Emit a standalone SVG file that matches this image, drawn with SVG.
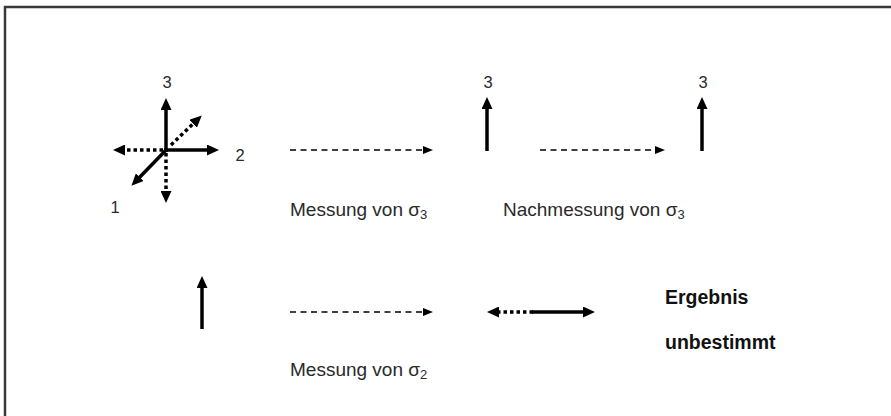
<svg xmlns="http://www.w3.org/2000/svg" width="891" height="416" viewBox="0 0 891 416">
<style>
  .frame { fill: none; stroke: #3a3a3a; stroke-width: 2.5; }
  .lbl { font-family: "Liberation Sans", Arial, sans-serif; font-size: 19px; fill: #2a2a2a; }
  .num { font-family: "Liberation Sans", Arial, sans-serif; font-size: 16.5px; fill: #2a2a2a; text-anchor: middle; }
  .bold { font-family: "Liberation Sans", Arial, sans-serif; font-size: 19.5px; font-weight: bold; fill: #111; }
  .sub { font-size: 13px; }
  .thick { stroke: #000; stroke-width: 3.5; fill: none; marker-end: url(#hd); }
  .dot { stroke: #000; stroke-width: 3.5; fill: none; stroke-dasharray: 3.5 3; marker-end: url(#hd); }
  .thin { stroke: #000; stroke-width: 1.3; fill: none; stroke-dasharray: 6 4.5; marker-end: url(#hs); }
</style>
<defs>
  <marker id="hd" markerUnits="userSpaceOnUse" viewBox="0 0 12 11" refX="4" refY="5.5" markerWidth="12" markerHeight="11" orient="auto">
    <path d="M0,0 L12,5.5 L0,11 z" fill="#000"/>
  </marker>
  <marker id="hs" markerUnits="userSpaceOnUse" viewBox="0 0 10 8" refX="2" refY="4" markerWidth="10" markerHeight="8" orient="auto">
    <path d="M0,0 L10,4 L0,8 z" fill="#000"/>
  </marker>
</defs>
<rect class="frame" x="5" y="7" width="900" height="420"/>

<g id="axes-initial">
  <line class="thick" x1="166" y1="152" x2="166" y2="106"/>
  <line class="thick" x1="164" y1="150" x2="211" y2="150"/>
  <line class="dot" x1="163" y1="150" x2="121" y2="150"/>
  <line class="dot" x1="166" y1="153" x2="166" y2="195"/>
  <line class="thick" x1="167" y1="149" x2="137" y2="180"/>
  <line class="dot" x1="171" y1="145" x2="196" y2="121"/>
  <text class="num" x="167" y="88">3</text>
  <text class="num" x="240" y="161">2</text>
  <text class="num" x="115" y="213">1</text>
</g>

<g id="state-3a">
  <line class="thick" x1="487" y1="151" x2="487" y2="105"/>
  <text class="num" x="488" y="88">3</text>
</g>

<g id="state-3b">
  <line class="thick" x1="702" y1="151" x2="702" y2="105"/>
  <text class="num" x="703" y="88">3</text>
</g>

<g id="state-2">
  <line class="thick" x1="202" y1="329" x2="202" y2="284"/>
</g>

<g id="result-double">
  <line class="dot" x1="533" y1="312" x2="495" y2="312"/>
  <line class="thick" x1="532" y1="312" x2="587" y2="312"/>
</g>

<g id="connectors">
  <line class="thin" x1="290" y1="150" x2="425" y2="150"/>
  <line class="thin" x1="540" y1="150" x2="657" y2="150"/>
  <line class="thin" x1="290" y1="312" x2="425" y2="312"/>
</g>

<g id="labels">
  <text class="lbl" x="290" y="216">Messung von σ<tspan class="sub" dy="3">3</tspan></text>
  <text class="lbl" x="503" y="216">Nachmessung von σ<tspan class="sub" dy="3">3</tspan></text>
  <text class="lbl" x="290" y="376">Messung von σ<tspan class="sub" dy="3">2</tspan></text>
  <text class="bold" x="665" y="304">Ergebnis</text>
  <text class="bold" x="665" y="349">unbestimmt</text>
</g>
</svg>
